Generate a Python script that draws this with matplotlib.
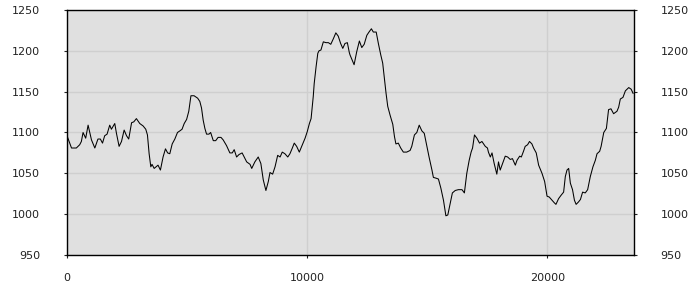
import matplotlib
matplotlib.use('Agg')
import matplotlib.pyplot as plt

# posiciones (eje x) y valores
x = [0, 200, 400, 540, 610, 680, 790, 890, 1030, 1170, 1300, 1400, 1490, 1580,
     1680, 1790, 1860, 2000, 2070, 2180, 2280, 2390, 2490, 2580, 2670, 2700,
     2790, 2900, 3040, 3180, 3290, 3360, 3430, 3500, 3550, 3640, 3800, 3900,
     4010, 4110, 4200, 4290, 4390, 4500, 4610, 4710, 4800, 4890, 4990, 5080,
     5170, 5300, 5450, 5540, 5610, 5680, 5750, 5820, 5920, 5990, 6100, 6200,
     6300, 6420, 6510, 6650, 6790, 6890, 6970, 7070, 7170, 7300, 7420, 7490,
     7630, 7700, 7830, 7970, 8080, 8180, 8290, 8390, 8460, 8570, 8670, 8780,
     8880, 8970, 9080, 9200, 9290, 9390, 9470, 9570, 9680, 9780, 9920, 10010,
     10100, 10170, 10220, 10260, 10300, 10380, 10450, 10500, 10580, 10680,
     10790, 10890, 10990, 11100, 11200, 11300, 11400, 11490, 11580, 11680,
     11760, 11790, 11960, 12070, 12180, 12280, 12380, 12490, 12580, 12680,
     12760, 12880, 12970, 13070, 13150, 13220, 13290, 13360, 13460, 13570,
     13640, 13700, 13800, 13900, 14010, 14150, 14290, 14360, 14470, 14570,
     14670, 14780, 14880, 14990, 15080, 15200, 15260, 15380, 15470, 15570,
     15680, 15780, 15860, 15960, 16050, 16170, 16300, 16450, 16550, 16650,
     16750, 16830, 16890, 16970, 17070, 17180, 17280, 17420, 17510, 17550,
     17630, 17700, 17790, 17900, 17970, 18040, 18150, 18250, 18350, 18460,
     18550, 18670, 18740, 18850, 18920, 19010, 19080, 19180, 19260, 19360,
     19430, 19540, 19640, 19780, 19890, 19990, 20080, 20200, 20290, 20360,
     20470, 20570, 20680, 20750, 20820, 20890, 20960, 21050, 21130, 21200,
     21300, 21380, 21470, 21580, 21680, 21790, 21900, 22000, 22070, 22180,
     22240, 22350, 22460, 22550, 22650, 22760, 22900, 22970, 23040, 23150,
     23250, 23390, 23490, 23570]

valores = [1097, 1081, 1081, 1085, 1089, 1100, 1093, 1109, 1091, 1081, 1092,
           1092, 1087, 1096, 1098, 1109, 1104, 1111, 1099, 1083, 1089, 1103,
           1096, 1092, 1107, 1112, 1113, 1117, 1111, 1108, 1104, 1097, 1074,
           1058, 1061, 1056, 1060, 1054, 1070, 1080, 1075, 1074, 1086, 1092,
           1100, 1102, 1104, 1111, 1116, 1126, 1145, 1145, 1142, 1138, 1130,
           1115, 1105, 1098, 1098, 1100, 1090, 1090, 1094, 1094, 1091, 1084,
           1075, 1075, 1079, 1070, 1073, 1075, 1068, 1064, 1061, 1056, 1064,
           1070, 1062, 1042, 1029, 1040, 1051, 1049, 1058, 1072, 1070, 1076,
           1074, 1070, 1074, 1081, 1087, 1083, 1076, 1083, 1093, 1101, 1111,
           1117, 1132, 1144, 1160, 1181, 1197, 1200, 1201, 1211, 1210, 1210,
           1208, 1215, 1222, 1218, 1209, 1203, 1209, 1210, 1198, 1195, 1183,
           1199, 1212, 1204, 1208, 1219, 1223, 1227, 1223, 1223, 1209, 1195,
           1185, 1166, 1148, 1132, 1121, 1110, 1095, 1086, 1087, 1081, 1076,
           1076, 1078, 1083, 1097, 1100, 1109, 1102, 1099, 1083, 1070, 1054,
           1045, 1044, 1043, 1032, 1017, 998, 999, 1013, 1026, 1029, 1030,
           1030, 1026, 1050, 1066, 1076, 1081, 1097, 1093, 1087, 1089, 1083,
           1081, 1076, 1070, 1075, 1062, 1049, 1064, 1054, 1063, 1071, 1070,
           1067, 1068, 1060, 1066, 1071, 1070, 1077, 1083, 1085, 1089, 1086,
           1081, 1075, 1060, 1050, 1040, 1022, 1021, 1017, 1014, 1012, 1019,
           1023, 1027, 1046, 1054, 1056, 1038, 1030, 1017, 1012, 1015, 1018,
           1027, 1026, 1030, 1046, 1058, 1066, 1074, 1077, 1083, 1100, 1105,
           1128, 1129, 1123, 1126, 1131, 1141, 1143, 1151, 1155, 1153, 1148]

y_ticks = [950, 1000, 1050, 1100, 1150, 1200, 1250]
x_ticks = [0, 10000, 20000]

fig = plt.figure(figsize=(7, 3), dpi=100)
ax = fig.add_axes([0.0953, 0.15, 0.8108, 0.8167])
ax.set_facecolor('#e0e0e0')

ax.plot(x, valores, color='black', linewidth=0.75)

ax.set_xlim(0, 23620)
ax.set_ylim(950, 1250)
ax.set_xticks(x_ticks)
ax.set_yticks(y_ticks)
ax.grid(True, color='#cfcfcf', linewidth=1)
ax.set_axisbelow(True)

for s in ax.spines.values():
    s.set_color('black')
    s.set_linewidth(1)

ax.tick_params(axis='y', which='both', left=True, right=True,
               labelleft=True, labelright=True, length=2, pad=17,
               labelsize=8, colors='#222222')
ax.tick_params(axis='x', length=2, pad=11, labelsize=8, colors='#222222')

fig.savefig('out.png', dpi=100)
